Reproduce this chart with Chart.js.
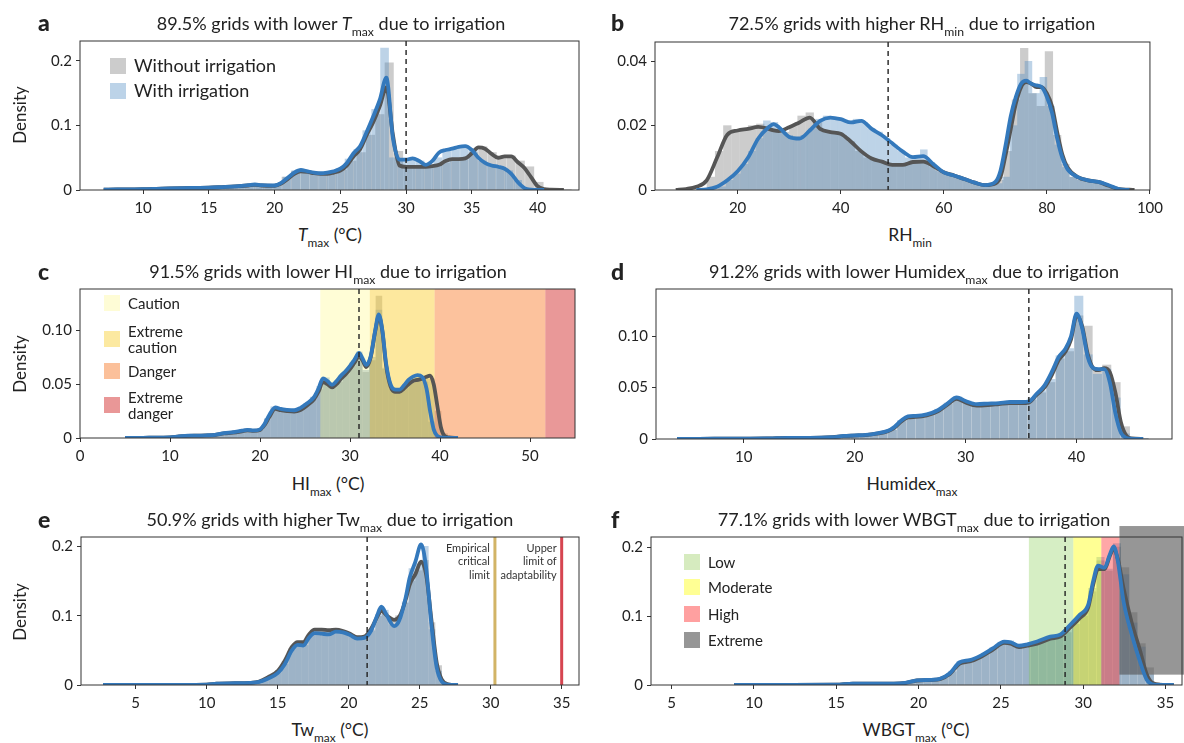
<!DOCTYPE html>
<html>
<head>
<meta charset="utf-8">
<script src="https://cdn.jsdelivr.net/npm/chart.js@4.4.1/dist/chart.umd.min.js"></script>
<style>
  body { margin: 0; width: 1184px; height: 743px; background: #fff; position: relative; overflow: hidden;
         font-family: Lato, "DejaVu Sans", sans-serif; color: #222; }
  canvas { position: absolute; }
  .txt { position: absolute; white-space: nowrap; transform: translate(-50%, -50%); line-height: 1; }
  .ttl { font-size: 18px; }
  .ax { font-size: 17.5px; }
  .rot { transform: translate(-50%, -50%) rotate(-90deg); font-size: 17px; }
  .let { position: absolute; font-size: 23px; font-weight: 900; line-height: 1; transform: translate(0, -50%); }
  sub { font-size: 0.68em; vertical-align: -0.45em; line-height: 0; }
  .sw { position: absolute; }
  .lt { position: absolute; white-space: nowrap; line-height: 1.08; transform: translate(0, -50%); }
</style>
</head>
<body>
<canvas id="ca"></canvas>
<canvas id="cb"></canvas>
<canvas id="cc"></canvas>
<canvas id="cd"></canvas>
<canvas id="ce"></canvas>
<canvas id="cf"></canvas>

<div class="let" style="left:38px;top:22px">a</div>
<div class="let" style="left:611px;top:22px">b</div>
<div class="let" style="left:38px;top:271px">c</div>
<div class="let" style="left:611px;top:271px">d</div>
<div class="let" style="left:38px;top:519px">e</div>
<div class="let" style="left:611px;top:519px">f</div>

<div class="txt ttl" style="left:331px;top:23px">89.5% grids with lower <i>T</i><sub>max</sub> due to irrigation</div>
<div class="txt ttl" style="left:912px;top:23px">72.5% grids with higher RH<sub>min</sub> due to irrigation</div>
<div class="txt ttl" style="left:328px;top:271px">91.5% grids with lower HI<sub>max</sub> due to irrigation</div>
<div class="txt ttl" style="left:914px;top:271px">91.2% grids with lower Humidex<sub>max</sub> due to irrigation</div>
<div class="txt ttl" style="left:330px;top:519px">50.9% grids with higher Tw<sub>max</sub> due to irrigation</div>
<div class="txt ttl" style="left:914px;top:519px">77.1% grids with lower WBGT<sub>max</sub> due to irrigation</div>

<div class="txt ax" style="left:330px;top:235px"><i>T</i><sub>max</sub> (°C)</div>
<div class="txt ax" style="left:910px;top:235px">RH<sub>min</sub></div>
<div class="txt ax" style="left:328px;top:484px">HI<sub>max</sub> (°C)</div>
<div class="txt ax" style="left:912px;top:484px">Humidex<sub>max</sub></div>
<div class="txt ax" style="left:330px;top:730px">Tw<sub>max</sub> (°C)</div>
<div class="txt ax" style="left:916px;top:730px">WBGT<sub>max</sub> (°C)</div>

<div class="txt rot" style="left:19px;top:115px">Density</div>
<div class="txt rot" style="left:19px;top:364px">Density</div>
<div class="txt rot" style="left:19px;top:612px">Density</div>

<div id="legends"></div>

<script>
// ---- panel a: Tmax ----
const aXTicks = [10, 15, 20, 25, 30, 35, 40];
const aYTicks = [0, 0.1, 0.2];
const aYLabels = ['0', '0.1', '0.2'];
const aMean = 30.0;
const aKdeX = [7, 8, 9, 10, 11, 12, 13, 14, 15, 16, 17, 18, 18.5, 19, 20, 20.5, 21, 21.5, 22, 22.5, 23, 23.5, 24, 24.5,
  25, 25.5, 26, 26.5, 27, 27.5, 28, 28.5, 29, 29.5, 30, 30.5, 31, 31.5, 32, 32.5, 33, 33.5, 34, 34.5, 35, 35.5, 36, 36.5,
  37, 37.5, 38, 38.5, 39, 39.5, 40, 40.5, 41, 42];
const aKdeWithout = [0.0005, 0.0008, 0.001, 0.0012, 0.0018, 0.0025, 0.003, 0.0033, 0.0036, 0.0045, 0.0055, 0.007, 0.008, 0.007,
  0.0065, 0.01, 0.017, 0.025, 0.029, 0.028, 0.026, 0.025, 0.025, 0.027, 0.03, 0.038, 0.052, 0.063, 0.085, 0.105, 0.13, 0.159,
  0.085, 0.038, 0.036, 0.036, 0.036, 0.036, 0.037, 0.039, 0.045, 0.048, 0.048, 0.049, 0.057, 0.066, 0.064, 0.056,
  0.05, 0.052, 0.052, 0.043, 0.034, 0.02, 0.006, 0.0015, 0.0005, 0.0002];
const aKdeWith = [0.0005, 0.0008, 0.001, 0.0012, 0.0018, 0.0025, 0.003, 0.0033, 0.0036, 0.0045, 0.0055, 0.0075, 0.0085, 0.0075,
  0.007, 0.011, 0.019, 0.027, 0.031, 0.029, 0.027, 0.026, 0.027, 0.029, 0.033, 0.042, 0.057, 0.068, 0.09, 0.114, 0.14, 0.174,
  0.08, 0.047, 0.047, 0.049, 0.045, 0.039, 0.045, 0.058, 0.062, 0.064, 0.067, 0.068, 0.062, 0.05, 0.042, 0.038,
  0.036, 0.033, 0.025, 0.012, 0.003, 0.0005, 0, 0, null, null];
const aBinsWithout = { start: 7.0, width: 0.712 };
const aHistWithout = [0.0003, 0.0005, 0.0008, 0.001, 0.0012, 0.0015, 0.002, 0.003, 0.003, 0.003, 0.003, 0.004,
  0.004, 0.005, 0.006, 0.007, 0.008, 0.007, 0.008, 0.02, 0.029, 0.03, 0.026, 0.025, 0.027, 0.031, 0.045, 0.058, 0.085, 0.117,
  0.197, 0.06, 0.037, 0.036, 0.036, 0.037, 0.042, 0.047, 0.047, 0.058, 0.067, 0.058, 0.05, 0.053, 0.045, 0.036, 0.012, 0.002,
  0.0008, 0.0004];
const aBinsWith = { start: 7.1, width: 0.675 };
const aHistWith = [0.0003, 0.0005, 0.0008, 0.001, 0.0012, 0.0015, 0.002, 0.003, 0.003, 0.003, 0.003, 0.004, 0.004, 0.005,
  0.006, 0.006, 0.009, 0.008, 0.007, 0.01, 0.02, 0.03, 0.031, 0.027, 0.026, 0.028, 0.033, 0.048, 0.063, 0.092, 0.125, 0.22,
  0.05, 0.046, 0.049, 0.045, 0.039, 0.05, 0.062, 0.066, 0.068, 0.064, 0.045, 0.037, 0.034, 0.03, 0.015, 0.003, 0.0005, 0.0002];

// ---- panel b: RHmin ----
const bXTicks = [20, 40, 60, 80, 100];
const bYTicks = [0, 0.02, 0.04];
const bYLabels = ['0', '0.02', '0.04'];
const bMean = 49.2;
const bKdeX = [8, 10, 12, 14, 16, 18, 20, 22, 24, 26, 27, 28, 30, 32, 34, 36, 38, 40, 42, 44, 46, 48, 50, 52, 54, 56, 58,
  60, 62, 64, 66, 68, 70, 71, 72, 73, 74, 75, 76, 77, 78, 79, 80, 81, 82, 83, 84, 86, 88, 90, 92, 94, 96, 97];
const bKdeWithout = [0, 0.0003, 0.001, 0.003, 0.01, 0.0172, 0.0185, 0.019, 0.0196, 0.019, 0.0185, 0.0183,
  0.0195, 0.021, 0.0225, 0.019, 0.018, 0.0175, 0.015, 0.012, 0.0098, 0.0088, 0.0078, 0.0078, 0.0087, 0.0088, 0.0074,
  0.0055, 0.0045, 0.0034, 0.0023, 0.0015, 0.002, 0.004, 0.011, 0.019, 0.027, 0.032, 0.0335, 0.033, 0.032, 0.032, 0.03,
  0.026, 0.018, 0.011, 0.007, 0.004, 0.003, 0.0025, 0.0013, 0.0003, 0.0001, 0];
const bKdeWith = [null, null, 0, 0.0002, 0.001, 0.003, 0.0058, 0.01, 0.016, 0.0195, 0.0205, 0.0195,
  0.0165, 0.016, 0.0185, 0.0215, 0.0225, 0.022, 0.021, 0.0215, 0.019, 0.017, 0.0145, 0.012, 0.0102, 0.0105, 0.008,
  0.0055, 0.0045, 0.0034, 0.0023, 0.0015, 0.0025, 0.006, 0.014, 0.023, 0.029, 0.033, 0.034, 0.033, 0.0325, 0.032, 0.029,
  0.024, 0.016, 0.01, 0.0065, 0.004, 0.003, 0.0025, 0.0015, 0.0003, 0, null];
const bBinsWithout = { start: 14.0, width: 1.6 };
const bHistWithout = [0.004, 0.012, 0.02, 0.018, 0.019, 0.02, 0.0205, 0.019, 0.018, 0.018, 0.02, 0.023, 0.024, 0.021,
  0.018, 0.018, 0.017, 0.015, 0.012, 0.01, 0.009, 0.0085, 0.008, 0.0075, 0.0085, 0.009, 0.009, 0.007, 0.0055, 0.0048,
  0.004, 0.003, 0.0022, 0.0015, 0.0015, 0.003, 0.012, 0.028, 0.044, 0.03, 0.026, 0.043, 0.017, 0.008, 0.004, 0.003, 0.003,
  0.0025, 0.0018, 0.0005];
const bBinsWith = { start: 16.25, width: 1.45 };
const bHistWith = [0.001, 0.003, 0.005, 0.008, 0.012, 0.016, 0.0215, 0.021, 0.018, 0.017, 0.016, 0.017, 0.019, 0.022,
  0.023, 0.022, 0.022, 0.021, 0.022, 0.021, 0.019, 0.018, 0.016, 0.014, 0.012, 0.01, 0.01, 0.0125, 0.0085, 0.006, 0.005,
  0.0045, 0.0038, 0.003, 0.0022, 0.0016, 0.0015, 0.002, 0.004, 0.02, 0.036, 0.04, 0.03, 0.035, 0.026, 0.014, 0.007, 0.004,
  0.003, 0.003, 0.0025, 0.002, 0.0008];

// ---- panel c: HImax ----
const cXTicks = [0, 10, 20, 30, 40, 50];
const cYTicks = [0, 0.05, 0.1];
const cYLabels = ['0', '0.05', '0.10'];
const cMean = 31.0;
const cKdeX = [5, 7, 9, 10, 11, 12, 13, 14, 15, 16, 17, 18, 18.6, 19.3, 20, 20.5, 21, 21.7, 22.3, 23, 23.8, 24.5, 25.2, 26,
  26.5, 27, 27.5, 28, 28.5, 29, 29.5, 30, 30.5, 31, 31.4, 31.8, 32.3, 32.8, 33.2, 33.6, 34, 34.5, 35, 35.5, 36, 36.5, 37,
  37.5, 38, 38.5, 38.9, 39.3, 39.7, 40.1, 40.5, 41, 42];
const cKdeWithout = [0, 0.0002, 0.0004, 0.0006, 0.0014, 0.002, 0.0022, 0.0024, 0.0028, 0.0042, 0.005, 0.0062,
  0.007, 0.0066, 0.0075, 0.012, 0.019, 0.027, 0.0258, 0.025, 0.0245, 0.026, 0.03, 0.036,
  0.043, 0.052, 0.05, 0.047, 0.05, 0.055, 0.059, 0.064, 0.07, 0.076, 0.072, 0.066, 0.075, 0.099, 0.113, 0.099, 0.068,
  0.048, 0.043, 0.043, 0.046, 0.05, 0.053, 0.054, 0.055, 0.057, 0.058, 0.05, 0.03, 0.01, 0.002, 0.0005, 0];
const cKdeWith = [0, 0.0002, 0.0004, 0.0006, 0.0015, 0.0022, 0.0023, 0.0025, 0.003, 0.0045, 0.0055, 0.0068,
  0.0075, 0.007, 0.008, 0.013, 0.021, 0.0285, 0.027, 0.0262, 0.0258, 0.028, 0.032, 0.038,
  0.046, 0.0555, 0.053, 0.0495, 0.053, 0.058, 0.062, 0.067, 0.073, 0.079, 0.074, 0.068, 0.076, 0.1, 0.115, 0.1, 0.07,
  0.05, 0.045, 0.045, 0.049, 0.054, 0.057, 0.0585, 0.057, 0.046, 0.025, 0.008, 0.002, 0.0005, 0.0002, 0.0001, 0];
const cBins = { start: 5.11, width: 0.73 };
const cHistWithout = [0.0002, 0.0002, 0.0003, 0.0003, 0.0004, 0.0004, 0.0005, 0.001, 0.0018, 0.0019, 0.0021, 0.0023,
  0.0024, 0.0028, 0.0038, 0.0047, 0.0052, 0.0062, 0.008, 0.0066, 0.0076, 0.017, 0.027, 0.026, 0.025, 0.024, 0.026, 0.03,
  0.036, 0.045, 0.053, 0.047, 0.052, 0.059, 0.067, 0.077, 0.061, 0.072, 0.132, 0.064, 0.045, 0.042, 0.046, 0.051, 0.054,
  0.057, 0.055, 0.025, 0.004, 0.0005];
const cHistWith = [0.0002, 0.0002, 0.0003, 0.0003, 0.0004, 0.0004, 0.0005, 0.001, 0.002, 0.002, 0.0022, 0.0024, 0.0025,
  0.003, 0.004, 0.005, 0.0055, 0.0065, 0.0085, 0.007, 0.008, 0.018, 0.029, 0.027, 0.026, 0.025, 0.028, 0.032, 0.038, 0.048,
  0.056, 0.049, 0.055, 0.062, 0.07, 0.08, 0.063, 0.075, 0.119, 0.065, 0.047, 0.044, 0.049, 0.055, 0.058, 0.052, 0.015,
  0.002, 0.0003, 0.0001];
const hiCategories = ['Caution', 'Extreme<br>caution', 'Danger', 'Extreme<br>danger'];
const hiFrom = [26.7, 32.2, 39.4, 51.7];
const hiTo = [32.2, 39.4, 51.7, 55];

// ---- panel d: Humidex ----
const dXTicks = [10, 20, 30, 40];
const dYTicks = [0, 0.05, 0.1];
const dYLabels = ['0', '0.05', '0.10'];
const dMean = 35.7;
const dKdeX = [4, 6, 8, 10, 12, 13, 14, 16, 18, 19, 20, 21, 22, 23, 23.6, 24.2, 24.8, 25.5, 26.5, 27.5, 28.3, 29.2,
  30, 31, 32, 33, 34, 35, 35.7, 36.4, 37.1, 37.8, 38.4, 39, 39.5, 40, 40.5, 41, 41.5, 42, 42.5, 43, 43.5, 44, 44.5, 45, 46];
const dKdeWithout = [0, 0.0002, 0.0003, 0.0004, 0.0005, 0.0008, 0.001, 0.001, 0.0017, 0.0028, 0.0033, 0.0038, 0.0052,
  0.0076, 0.011, 0.017, 0.021, 0.0215, 0.023, 0.027, 0.033, 0.039, 0.0355, 0.0325, 0.033, 0.034, 0.035, 0.035,
  0.0355, 0.043, 0.05, 0.063, 0.077, 0.085, 0.097, 0.12, 0.11, 0.083, 0.069, 0.067, 0.069, 0.065, 0.045, 0.016, 0.003,
  0.0005, 0];
const dKdeWith = [0, 0.0002, 0.0003, 0.0004, 0.0005, 0.0008, 0.001, 0.001, 0.0018, 0.003, 0.0035, 0.004, 0.0055,
  0.008, 0.012, 0.018, 0.022, 0.0225, 0.024, 0.028, 0.034, 0.0405, 0.037, 0.034, 0.0345, 0.035, 0.036, 0.036,
  0.0365, 0.044, 0.052, 0.066, 0.08, 0.088, 0.1, 0.122, 0.108, 0.08, 0.069, 0.068, 0.068, 0.055, 0.025, 0.006, 0.001,
  0.0002, 0];
const dBins = { start: 4.5, width: 0.84 };
const dHistWithout = [0.0002, 0.0002, 0.0003, 0.0003, 0.0003, 0.0004, 0.0004, 0.0004, 0.0005, 0.0006, 0.0008, 0.001,
  0.001, 0.001, 0.0012, 0.0014, 0.0019, 0.0028, 0.0033, 0.0038, 0.0043, 0.0058, 0.0085, 0.017, 0.021, 0.021, 0.023,
  0.028, 0.034, 0.04, 0.036, 0.033, 0.033, 0.034, 0.034, 0.035, 0.035, 0.038, 0.045, 0.055, 0.078, 0.085, 0.12, 0.11,
  0.068, 0.072, 0.055, 0.012, 0.001, 0.0003];
const dHistWith = [0.0002, 0.0002, 0.0003, 0.0003, 0.0003, 0.0004, 0.0004, 0.0004, 0.0005, 0.0006, 0.0008, 0.001, 0.001,
  0.001, 0.0012, 0.0015, 0.002, 0.003, 0.0035, 0.004, 0.0045, 0.006, 0.009, 0.018, 0.022, 0.022, 0.024, 0.029, 0.035,
  0.041, 0.037, 0.034, 0.034, 0.035, 0.035, 0.036, 0.036, 0.04, 0.047, 0.058, 0.081, 0.088, 0.139, 0.082, 0.063, 0.068,
  0.04, 0.005, 0.0005, 0.0002];

// ---- panel e: Tw ----
const eXTicks = [5, 10, 15, 20, 25, 30, 35];
const eYTicks = [0, 0.1, 0.2];
const eYLabels = ['0', '0.1', '0.2'];
const eMean = 21.3;
const eKdeX = [2.7, 5, 8, 10, 10.7, 12, 13, 13.7, 14.3, 15, 15.5, 16, 16.4, 16.8, 17.2, 17.6, 18.1, 18.6, 19.1, 19.6,
  20.1, 20.6, 21.1, 21.6, 22, 22.3, 22.7, 23.2, 23.6, 24, 24.3, 24.7, 25.1, 25.45, 25.85, 26.2, 26.55, 27, 27.7];
const eKdeWithout = [0, 0.0001, 0.0002, 0.0005, 0.002, 0.0025, 0.003, 0.005, 0.011, 0.02, 0.035, 0.055, 0.062, 0.062,
  0.073, 0.08, 0.08, 0.079, 0.08, 0.078, 0.074, 0.069, 0.07, 0.082, 0.098, 0.107, 0.1, 0.094, 0.1, 0.122,
  0.145, 0.16, 0.178, 0.16, 0.09, 0.032, 0.008, 0.001, 0];
const eKdeWith = [0, 0.0001, 0.0002, 0.0005, 0.002, 0.0025, 0.003, 0.0045, 0.009, 0.017, 0.03, 0.05, 0.058, 0.057,
  0.068, 0.075, 0.074, 0.073, 0.077, 0.076, 0.072, 0.067, 0.068, 0.079, 0.1, 0.113, 0.1, 0.085, 0.095, 0.125,
  0.155, 0.178, 0.203, 0.17, 0.082, 0.025, 0.005, 0.0005, 0];
const eBins = { start: 3.54, width: 0.47 };
const eHistWithout = [0.0001, 0.0001, 0.0001, 0.0001, 0.0001, 0.0001, 0.0001, 0.0001, 0.0001, 0.0001, 0.0002, 0.0003,
  0.0004, 0.0005, 0.0009, 0.002, 0.0025, 0.0025, 0.003, 0.003, 0.0036, 0.0045, 0.008, 0.013, 0.021, 0.034, 0.053, 0.063,
  0.062, 0.076, 0.08, 0.079, 0.08, 0.08, 0.077, 0.073, 0.069, 0.07, 0.08, 0.099, 0.104, 0.095, 0.1, 0.118, 0.15, 0.165,
  0.18, 0.09, 0.028, 0.003];
const eHistWith = [0.0001, 0.0001, 0.0001, 0.0001, 0.0001, 0.0001, 0.0001, 0.0001, 0.0001, 0.0001, 0.0002, 0.0003,
  0.0004, 0.0005, 0.0008, 0.002, 0.0025, 0.0025, 0.003, 0.003, 0.0035, 0.004, 0.007, 0.011, 0.018, 0.03, 0.05, 0.06,
  0.057, 0.072, 0.075, 0.073, 0.076, 0.077, 0.075, 0.071, 0.067, 0.068, 0.078, 0.102, 0.108, 0.087, 0.093, 0.12, 0.168,
  0.175, 0.2, 0.08, 0.02, 0.002];
const twLimits = [30.3, 35];
const twLimitNames = [['Empirical', 'critical', 'limit'], ['Upper', 'limit of', 'adaptability']];

// ---- panel f: WBGT ----
const fXTicks = [5, 10, 15, 20, 25, 30, 35];
const fYTicks = [0, 0.1, 0.2];
const fYLabels = ['0', '0.1', '0.2'];
const fMean = 28.9;
const fKdeX = [8.8, 12, 15, 16, 17, 18.5, 19.2, 19.9, 20.8, 21.3, 21.9, 22.5, 23.1, 23.8, 24.5, 25.2, 25.6, 26.1, 26.6,
  27.2, 28, 28.6, 29.2, 29.8, 30.3, 30.6, 30.9, 31.3, 31.6, 31.85, 32.1, 32.45, 32.95, 33.45, 33.85, 34.2, 34.7, 35.5];
const fKdeWithout = [0, 0.0001, 0.0004, 0.002, 0.002, 0.002, 0.003, 0.0065, 0.0072, 0.0085, 0.016, 0.031, 0.034, 0.041,
  0.051, 0.061, 0.06, 0.055, 0.057, 0.06, 0.067, 0.07, 0.083, 0.097, 0.112, 0.145, 0.168, 0.168, 0.186, 0.197,
  0.183, 0.14, 0.09, 0.05, 0.016, 0.003, 0.0003, 0];
const fKdeWith = [0, 0.0001, 0.0004, 0.002, 0.002, 0.002, 0.003, 0.0068, 0.0075, 0.009, 0.017, 0.033, 0.036, 0.043,
  0.053, 0.063, 0.062, 0.057, 0.059, 0.063, 0.07, 0.073, 0.087, 0.102, 0.116, 0.15, 0.173, 0.17, 0.188, 0.201,
  0.18, 0.121, 0.073, 0.034, 0.008, 0.001, 0.0001, 0];
const fBins = { start: 9.8, width: 0.5 };
const fHistWithout = [0.0001, 0.0001, 0.0001, 0.0001, 0.0002, 0.0002, 0.0002, 0.0003, 0.0003, 0.0004, 0.0005, 0.0015,
  0.002, 0.002, 0.002, 0.002, 0.002, 0.0025, 0.003, 0.0058, 0.0068, 0.0072, 0.0078, 0.0095, 0.019, 0.032, 0.034, 0.038,
  0.044, 0.052, 0.06, 0.062, 0.055, 0.056, 0.06, 0.062, 0.066, 0.069, 0.076, 0.088, 0.1, 0.135, 0.18, 0.165, 0.2, 0.17,
  0.105, 0.06, 0.025, 0.003];
const fHistWith = [0.0001, 0.0001, 0.0001, 0.0001, 0.0002, 0.0002, 0.0002, 0.0003, 0.0003, 0.0004, 0.0005, 0.0015, 0.002,
  0.002, 0.002, 0.002, 0.002, 0.0025, 0.003, 0.006, 0.007, 0.0075, 0.008, 0.01, 0.02, 0.034, 0.036, 0.04, 0.046, 0.054,
  0.062, 0.064, 0.057, 0.058, 0.062, 0.064, 0.069, 0.072, 0.079, 0.092, 0.105, 0.14, 0.185, 0.168, 0.205, 0.16, 0.09,
  0.055, 0.015, 0.001];
const wbgtCategories = ['Low', 'Moderate', 'High', 'Extreme'];
const wbgtFrom = [26.7, 29.4, 31.1, 32.2];
const wbgtTo = [29.4, 31.1, 32.2, 36.2];
const wbgtBottom = [0, 0, 0, 0.015];
const wbgtTop = [0.2145, 0.2145, 0.2145, 0.2304];

// ---- styles ----
const BLUE_LINE = '#3479bc';
const GRAY_LINE = '#555555';
const BLUE_BAR = 'rgba(75,135,190,0.37)';
const GRAY_BAR = 'rgba(128,128,128,0.4)';
const hiColors = ['rgba(255,250,120,0.3)', 'rgba(250,205,40,0.45)', 'rgba(248,128,50,0.48)', 'rgba(210,40,40,0.48)'];
const hiSwatches = ['#fefcd6', '#fce9a1', '#fbc09a', '#e99797'];
const wbgtColors = ['rgba(120,200,60,0.3)', 'rgba(255,255,0,0.42)', 'rgba(255,60,60,0.45)', 'rgba(80,80,80,0.6)'];
const wbgtSwatches = ['#d6ebbf', '#ffff94', '#ffa0a0', '#969696'];

Chart.defaults.font.family = 'Lato, "DejaVu Sans", sans-serif';
Chart.defaults.font.size = 15;
Chart.defaults.color = '#222';

const frame = {
    id: 'frame',
    afterDraw(chart) {
        const { ctx, chartArea: { left, top, width, height } } = chart;
        ctx.save();
        ctx.strokeStyle = '#333';
        ctx.lineWidth = 1;
        ctx.strokeRect(left, top, width, height);
        ctx.restore();
    }
};

// coloured category bands, painted over the bars but under the density curves
const shading = {
    id: 'shading',
    afterDatasetDraw(chart, args, opts) {
        if (args.index !== 2 || !opts.from) return;
        const { ctx, scales: { x, y } } = chart;
        ctx.save();
        opts.from.forEach((v, i) => {
            const x0 = x.getPixelForValue(v);
            const x1 = x.getPixelForValue(opts.to[i]);
            const y0 = y.getPixelForValue(opts.bottom ? opts.bottom[i] : 0);
            const y1 = y.getPixelForValue(opts.top ? opts.top[i] : y.max);
            ctx.fillStyle = opts.colors[i];
            ctx.fillRect(x0, y1, x1 - x0, y0 - y1);
        });
        ctx.restore();
    }
};

const markers = {
    id: 'markers',
    afterDatasetsDraw(chart, args, opts) {
        const { ctx, chartArea: { top, bottom }, scales: { x } } = chart;
        ctx.save();
        if (opts.limits) {
            opts.limits.forEach((v, i) => {
                const px = x.getPixelForValue(v);
                ctx.strokeStyle = opts.limitColors[i];
                ctx.lineWidth = 3;
                ctx.beginPath();
                ctx.moveTo(px, top);
                ctx.lineTo(px, bottom);
                ctx.stroke();
                ctx.fillStyle = '#333';
                ctx.font = '11px Lato, "DejaVu Sans", sans-serif';
                ctx.textAlign = 'right';
                ctx.textBaseline = 'middle';
                opts.names[i].forEach((s, j) => ctx.fillText(s, px - 5, top + 11 + j * 13.5));
            });
        }
        const mx = x.getPixelForValue(opts.mean);
        ctx.strokeStyle = '#222';
        ctx.lineWidth = 1.4;
        ctx.setLineDash([5, 4]);
        ctx.beginPath();
        ctx.moveTo(mx, top);
        ctx.lineTo(mx, bottom);
        ctx.stroke();
        ctx.restore();
    }
};

function binPoints(bins, heights) {
    return heights.map((h, i) => ({ x: bins.start + bins.width * (i + 0.5), y: h }));
}
function curvePoints(xs, ys) {
    return xs.map((v, i) => ({ x: v, y: ys[i] }));
}

function drawPanel(id, box, xMin, xMax, yMax, xTicks, yTicks, yLabels, kdeX, kdeWithout, kdeWith,
                   binsWithout, histWithout, binsWith, histWith, markerOpts, shadeOpts) {
    const [l, t, r, b] = box;
    const padRight = Math.min(6, 1184 - r);
    const pxPerUnit = (r - l) / (xMax - xMin);
    const canvas = document.getElementById(id);
    canvas.width = (r - l) + 60 + padRight;
    canvas.height = (b - t) + 15 + 32;
    canvas.style.left = (l - 60) + 'px';
    canvas.style.top = (t - 15) + 'px';
    new Chart(canvas, {
        type: 'line',
        data: {
            datasets: [{
                type: 'line',
                label: 'With irrigation',
                data: curvePoints(kdeX, kdeWith),
                borderColor: BLUE_LINE,
                borderWidth: 3.8,
                pointRadius: 0,
                cubicInterpolationMode: 'monotone'
            },
            {
                type: 'line',
                label: 'Without irrigation',
                data: curvePoints(kdeX, kdeWithout),
                borderColor: GRAY_LINE,
                borderWidth: 3.8,
                pointRadius: 0,
                cubicInterpolationMode: 'monotone'
            },
            {
                type: 'bar',
                data: binPoints(binsWith, histWith),
                backgroundColor: BLUE_BAR,
                grouped: false,
                barThickness: binsWith.width * pxPerUnit * 0.9
            },
            {
                type: 'bar',
                data: binPoints(binsWithout, histWithout),
                backgroundColor: GRAY_BAR,
                grouped: false,
                barThickness: binsWithout.width * pxPerUnit * 0.9
            }]
        },
        options: {
            responsive: false,
            animation: false,
            layout: { padding: { left: 0, top: 15, right: padRight, bottom: 0 } },
            scales: {
                x: {
                    type: 'linear',
                    min: xMin,
                    max: xMax,
                    offset: false,
                    border: { display: false },
                    grid: { display: true, drawOnChartArea: false, offset: false, tickLength: 4, color: '#333' },
                    ticks: { padding: 5, autoSkip: false, maxRotation: 0, callback: v => String(v) },
                    afterBuildTicks: s => { s.ticks = xTicks.map(v => ({ value: v })); },
                    afterFit: s => { s.height = 32; }
                },
                y: {
                    type: 'linear',
                    min: 0,
                    max: yMax,
                    border: { display: false },
                    grid: { display: true, drawOnChartArea: false, tickLength: 4, color: '#333' },
                    ticks: { padding: 4, autoSkip: false, callback: (v, i) => yLabels[i] },
                    afterBuildTicks: s => { s.ticks = yTicks.map(v => ({ value: v })); },
                    afterFit: s => { s.width = 60; }
                }
            },
            plugins: {
                legend: { display: false },
                tooltip: { enabled: false },
                markers: markerOpts,
                shading: shadeOpts || {}
            }
        },
        plugins: [shading, markers, frame]
    });
}

drawPanel('ca', [80, 41, 579, 190], 5.2, 43.15, 0.231, aXTicks, aYTicks, aYLabels, aKdeX, aKdeWithout, aKdeWith,
    aBinsWithout, aHistWithout, aBinsWith, aHistWith, { mean: aMean });
drawPanel('cb', [655, 42, 1162, 190], 3.97, 100, 0.046, bXTicks, bYTicks, bYLabels, bKdeX, bKdeWithout, bKdeWith,
    bBinsWithout, bHistWithout, bBinsWith, bHistWith, { mean: bMean });
drawPanel('cc', [80, 289, 575, 438], 0, 55, 0.1385, cXTicks, cYTicks, cYLabels, cKdeX, cKdeWithout, cKdeWith,
    cBins, cHistWithout, cBins, cHistWith, { mean: cMean },
    { from: hiFrom, to: hiTo, colors: hiColors });
drawPanel('cd', [656, 289, 1172, 439], 2.1, 48.6, 0.146, dXTicks, dYTicks, dYLabels, dKdeX, dKdeWithout, dKdeWith,
    dBins, dHistWithout, dBins, dHistWith, { mean: dMean });
drawPanel('ce', [81, 537, 579, 685], 1.15, 36.22, 0.2136, eXTicks, eYTicks, eYLabels, eKdeX, eKdeWithout, eKdeWith,
    eBins, eHistWithout, eBins, eHistWith,
    { mean: eMean, limits: twLimits, names: twLimitNames, limitColors: ['#d2b466', '#d64550'] });
drawPanel('cf', [651, 537, 1182, 685], 3.75, 36.0, 0.2145, fXTicks, fYTicks, fYLabels, fKdeX, fKdeWithout, fKdeWith,
    fBins, fHistWithout, fBins, fHistWith, { mean: fMean },
    { from: wbgtFrom, to: wbgtTo, bottom: wbgtBottom, top: wbgtTop, colors: wbgtColors });

// legends (html overlays)
function addLegend(x, rows, size) {
    const host = document.getElementById('legends');
    rows.forEach(row => {
        const sw = document.createElement('div');
        sw.className = 'sw';
        sw.style.cssText = `left:${x}px;top:${row.y - 8}px;width:16px;height:16px;background:${row.color}`;
        host.appendChild(sw);
        const tx = document.createElement('div');
        tx.className = 'lt';
        tx.style.cssText = `left:${x + 24}px;top:${row.y}px;font-size:${size}px`;
        tx.innerHTML = row.text;
        host.appendChild(tx);
    });
}
addLegend(110, [
    { y: 66, color: '#cccccc', text: 'Without irrigation' },
    { y: 91, color: '#bcd3e8', text: 'With irrigation' }
], 18);
addLegend(104, hiCategories.map((name, i) => ({ y: [303, 339, 371, 405][i], color: hiSwatches[i], text: name })), 15);
addLegend(684, wbgtCategories.map((name, i) => ({ y: [562, 587, 614, 640][i], color: wbgtSwatches[i], text: name })), 15);
</script>
</body>
</html>
